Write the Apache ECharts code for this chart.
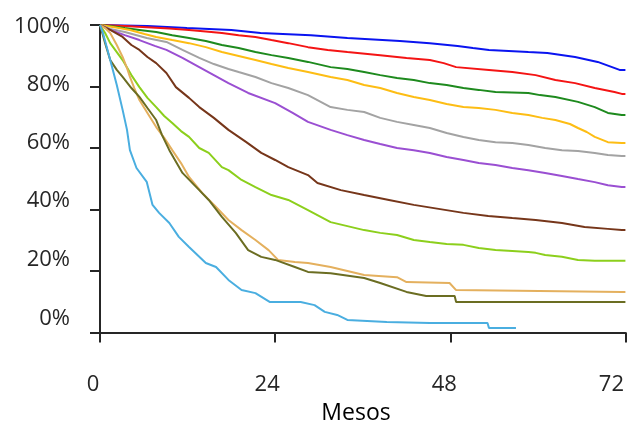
<!DOCTYPE html>
<html>
<head>
<meta charset="utf-8">
<script src="https://cdn.jsdelivr.net/npm/echarts@6/dist/echarts.min.js"></script>
<style>
html,body{margin:0;padding:0;background:#fff;}
#c{width:627px;height:426px;}
</style>
</head>
<body>
<div id="c"></div>
<script>
// ---- data (months, survival %) ----
const xTicks = [0, 24, 48, 72];
const yTicks = [0, 20, 40, 60, 80, 100];
const xTitle = 'Mesos';

const blueM = [0,6.5,11.9,18.0,22.0,28.9,33.9,41.1,45.2,49.0,51.1,53.3,58.7,61.3,65.1,68.2,71.2,72];
const blueV = [100,99.7,99.0,98.4,97.4,96.7,95.8,94.8,94.1,93.2,92.5,91.9,91.2,90.9,89.6,88.0,85.4,85.4];

const redM = [0,3.4,6.4,9.5,12.2,14.5,16.7,19.0,21.3,23.5,25.8,28.5,31.2,33.9,38.4,42.0,45.2,47.1,48.8,53.3,56.5,59.7,62.4,65.1,67.8,70.5,71.5,72];
const redV = [100,99.7,99.3,98.9,98.4,97.9,97.4,96.7,96.1,95.1,94.1,92.8,91.9,91.2,90.2,89.3,88.6,87.6,86.3,85.4,84.7,83.7,82.1,81.1,79.5,78.2,77.6,77.6];

const greenM = [0,1.4,3.4,5.4,7.7,9.9,12.2,14.5,16.7,19.0,21.3,23.5,25.8,28.5,31.6,33.9,36.2,38.4,40.7,43.0,45.2,47.5,49.8,51.9,54.2,58.7,60.3,62.4,65.5,67.8,69.6,71.5,72];
const greenV = [100,99.7,99.0,98.4,97.7,96.7,95.8,94.8,93.5,92.5,91.2,90.2,89.3,88.0,86.3,85.7,84.7,83.7,82.8,82.1,81.1,80.5,79.5,78.9,78.2,77.9,77.2,76.6,75.0,73.3,71.4,70.7,70.7];

const orangeM = [0,2.0,4.1,6.1,7.7,9.9,12.2,14.5,16.7,19.0,21.3,23.5,25.8,28.5,31.6,33.9,36.2,38.4,40.7,43.0,45.2,47.5,49.8,51.9,54.2,56.5,58.7,60.6,62.4,64.4,65.5,66.7,67.8,69.6,71.5,72];
const orangeV = [100,99.3,98.4,97.1,96.1,95.1,94.1,92.8,91.2,89.9,88.6,87.3,86.0,84.7,83.1,82.1,80.5,79.5,77.9,76.6,75.6,74.3,73.3,73.0,72.4,71.4,70.7,69.8,69.1,67.8,66.5,65.2,63.6,61.9,61.6,61.6];

const grayM = [0,1.4,3.4,6.4,9.1,11.3,13.6,15.6,17.6,19.0,21.3,23.5,25.8,28.5,31.6,33.9,36.2,38.4,40.7,43.0,45.2,47.5,49.8,51.9,54.2,56.5,58.7,61.0,63.3,65.5,67.8,69.6,71.5,72];
const grayV = [100,98.7,97.7,95.8,94.5,91.9,89.3,87.3,85.7,84.7,83.1,81.1,79.5,77.2,73.3,72.4,71.7,69.8,68.5,67.5,66.5,64.9,63.6,62.6,61.9,61.6,61.0,60.0,59.3,59.0,58.4,57.7,57.4,57.4];

const purpleM = [0,1.4,3.4,5.4,7.5,9.1,11.3,13.6,15.6,17.6,20.3,24.0,26.4,28.5,31.6,33.9,36.2,38.4,40.7,43.0,45.2,47.5,49.8,51.9,54.2,56.5,58.7,61.0,63.3,65.5,67.8,69.6,71.5,72];
const purpleV = [100,98.4,96.7,95.1,93.2,91.9,89.3,86.3,83.7,81.1,77.9,74.6,71.4,68.5,65.9,64.2,62.6,61.3,60.0,59.3,58.4,57.1,56.1,55.1,54.5,53.5,52.8,51.9,50.9,49.9,48.9,47.9,47.3,47.3];

const brownM = [0,1.4,3.1,4.3,5.4,6.5,7.7,9.1,10.4,12.2,13.6,15.6,17.6,20.0,22.1,24.0,25.8,28.5,29.8,33.0,36.2,39.6,43.0,46.4,49.8,53.2,56.5,59.7,63.3,66.4,69.6,71.5,72];
const brownV = [100,98.4,96.1,93.5,91.9,89.6,87.6,84.4,79.8,76.3,73.3,69.8,65.9,62.0,58.4,56.1,53.8,51.2,48.6,46.3,44.7,43.1,41.5,40.2,38.9,37.9,37.2,36.6,35.6,34.3,33.7,33.3,33.3];

const limeM = [0,0.7,1.4,2.3,3.1,4.3,5.4,6.5,7.7,8.8,9.9,11.1,12.2,13.6,14.9,16.7,17.6,19.4,21.3,23.5,25.8,28.5,31.6,33.9,36.2,38.4,40.7,43.0,45.2,47.5,49.8,51.9,54.2,56.5,58.7,59.7,61.0,63.3,65.5,67.8,71.5,72];
const limeV = [100,97.4,94.1,91.2,88.6,83.7,79.8,76.3,73.3,70.4,68.1,65.5,63.6,60.0,58.4,53.8,52.8,49.6,47.3,44.7,43.1,39.8,35.9,34.6,33.3,32.4,31.7,30.1,29.4,28.8,28.5,27.5,26.8,26.5,26.2,25.9,25.2,24.6,23.6,23.3,23.3,23.3];

const tanM = [0,0.7,1.4,2.3,3.1,3.7,4.1,4.7,5.4,6.5,7.7,8.8,9.9,11.1,12.2,14.0,15.9,17.6,19.4,21.3,23.1,24.4,26.7,28.5,31.6,33.9,36.2,40.7,42.0,47.9,48.8,71.5,72];
const tanV = [100,99.0,97.4,93.5,89.6,86.0,83.1,79.5,75.6,71.4,66.8,63.3,59.3,55.1,50.6,45.4,40.8,36.6,33.3,30.1,26.8,23.6,22.9,22.6,21.3,20.0,18.7,18.0,16.4,16.1,13.8,13.2,13.2];

const oliveM = [0,0.4,0.7,1.4,2.3,3.1,4.3,5.4,6.5,7.7,8.5,9.5,11.3,13.6,14.9,16.7,18.6,20.3,22.1,24.0,26.7,28.5,31.6,36.2,38.4,42.0,44.7,48.6,48.8,71.5,72];
const oliveV = [100,96.7,94.1,88.6,85.4,83.1,79.5,76.6,73.0,69.1,64.2,59.3,51.9,46.3,43.1,37.6,32.4,26.8,24.6,23.6,21.3,19.7,19.3,17.7,16.1,13.2,11.9,11.9,9.9,9.9,9.9];

const skyM = [0,0.4,1.4,2.3,3.1,3.7,4.1,5.0,6.4,7.2,8.1,9.5,10.8,12.2,14.5,15.9,17.6,19.4,21.3,23.3,27.5,29.4,30.8,32.5,33.9,39.3,45.2,53.1,53.3,57.0];
const skyV = [100,97.4,88.6,80.5,72.4,65.9,59.3,53.5,49.0,41.5,38.9,35.6,31.1,27.8,22.6,21.3,17.1,13.8,12.8,9.9,9.9,8.9,6.7,5.7,4.1,3.4,3.1,3.1,1.5,1.5];

const seriesDefs = [
  {name:'s1', m:blueM, v:blueV, color:'#0a14f0'},
  {name:'s2', m:redM, v:redV, color:'#f41414'},
  {name:'s3', m:greenM, v:greenV, color:'#1e8a1e'},
  {name:'s4', m:orangeM, v:orangeV, color:'#fdbd14'},
  {name:'s5', m:grayM, v:grayV, color:'#a3a3a3'},
  {name:'s6', m:purpleM, v:purpleV, color:'#9a4fd2'},
  {name:'s7', m:brownM, v:brownV, color:'#76361a'},
  {name:'s8', m:limeM, v:limeV, color:'#8ccf1c'},
  {name:'s9', m:tanM, v:tanV, color:'#e4b05e'},
  {name:'s10', m:oliveM, v:oliveV, color:'#6b6d22'},
  {name:'s11', m:skyM, v:skyV, color:'#4aaee0'}
];

const yShift = {0:27, 20:22, 40:17, 60:10, 80:3, 100:0};
const yTop = {0:0, 20:0, 40:0, 60:0, 80:0, 100:3};
const xShift = {0:14, 24:16, 48:12, 72:28};

const yRich = {}, xRich = {};
yTicks.forEach(t => { yRich['y'+t] = {fontFamily:'Open Sans', fontSize:22, color:'#262626', padding:[yTop[t],0,yShift[t],0]}; });
xTicks.forEach(t => { xRich['x'+t] = {fontFamily:'Open Sans', fontSize:22, color:'#262626', padding:[0,xShift[t],0,0]}; });

const chart = echarts.init(document.getElementById('c'), null, {renderer:'canvas'});
chart.setOption({
  animation:false,
  backgroundColor:'#fff',
  title:{
    text: xTitle, left: 351, top: 397, textAlign:'center',
    textStyle:{fontFamily:'Open Sans', fontSize:23, fontWeight:500, color:'#000'}
  },
  grid:{left:100, top:25, right:-4, bottom:93.5, containLabel:false},
  xAxis:{
    type:'value', min:0, max:72, interval:24,
    axisLine:{lineStyle:{color:'#262626', width:2}},
    axisTick:{show:true, inside:false, length:10, lineStyle:{color:'#262626', width:2}},
    splitLine:{show:false},
    axisLabel:{margin:41, formatter: v => '{x'+v+'|'+v+'}', rich:xRich}
  },
  yAxis:{
    type:'value', min:0, max:100, interval:20,
    axisLine:{show:true, lineStyle:{color:'#262626', width:2}},
    axisTick:{show:true, inside:false, length:10, lineStyle:{color:'#262626', width:2}},
    splitLine:{show:false},
    axisLabel:{margin:30, formatter: v => '{y'+v+'|'+v+'%}', rich:yRich}
  },
  series: seriesDefs.map(d => ({
    name:d.name, type:'line', showSymbol:false, symbol:'none',
    data: d.m.map((m,i)=>[m, d.v[i]]),
    lineStyle:{color:d.color, width:2},
    itemStyle:{color:d.color},
    clip:true, z: 2
  }))
});
</script>
</body>
</html>
